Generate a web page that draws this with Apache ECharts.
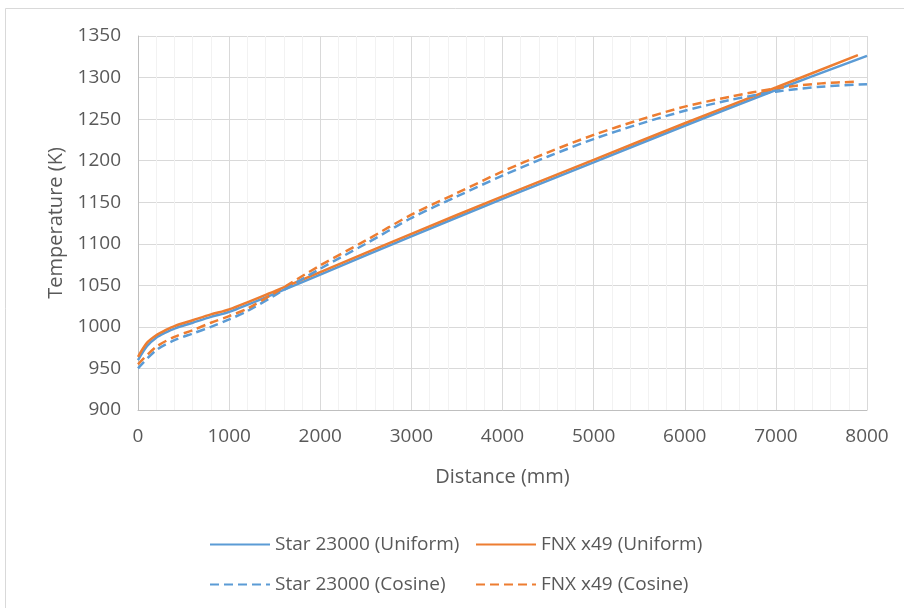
<!DOCTYPE html>
<html>
<head>
<meta charset="utf-8">
<script src="https://cdn.jsdelivr.net/npm/echarts@6/dist/echarts.min.js"></script>
<style>
html,body{margin:0;padding:0;background:#fff;}
#c{width:904px;height:608px;}
</style>
</head>
<body>
<div id="c"></div>
<script>
// Data (distance mm, temperature K)
const starUniformX = [0, 100, 200, 300, 400, 600, 800, 1000, 1500, 2000, 3000, 4000, 5000, 6000, 7000, 8000];
const starUniformY = [960, 977, 987, 993, 998, 1005, 1012, 1018, 1040, 1063, 1109, 1154, 1198, 1242, 1285, 1326];
const fnxUniformX = [0, 100, 200, 300, 400, 600, 800, 1000, 1500, 2000, 3000, 4000, 5000, 6000, 7000, 7900];
const fnxUniformY = [964, 981, 990, 996, 1001, 1008, 1015, 1021, 1043, 1066, 1112, 1157, 1201, 1245, 1288, 1327];
const starCosineX = [0, 200, 400, 600, 800, 1000, 1200, 1500, 2000, 2500, 3000, 3500, 4000, 4500, 5000, 5500, 6000, 6500, 7000, 7500, 8000];
const starCosineY = [950, 972, 984, 992, 1000, 1009, 1019, 1038, 1070, 1100, 1131, 1157, 1182, 1205, 1226, 1244, 1260, 1273, 1283, 1289, 1292];
const fnxCosineX = [0, 200, 400, 600, 800, 1000, 1200, 1500, 2000, 2500, 3000, 3500, 4000, 4500, 5000, 5500, 6000, 6500, 7000, 7500, 7900];
const fnxCosineY = [955, 976, 988, 996, 1005, 1013, 1022, 1041, 1074, 1104, 1135, 1161, 1187, 1210, 1231, 1249, 1265, 1277, 1287, 1293, 1295];
const seriesNames = ['Star 23000 (Uniform)', 'FNX x49 (Uniform)', 'Star 23000 (Cosine)', 'FNX x49 (Cosine)'];
const xTitle = 'Distance (mm)';
const yTitle = 'Temperature (K)';

const BLUE = '#5B9BD5', ORANGE = '#ED7D31';
const FONT = 'Open Sans';
const TXT = '#595959';
const zip = (xs, ys) => xs.map((x, i) => [x, ys[i]]);

function mkSeries(name, data, color, dashed) {
  return {
    name, type: 'line', data, smooth: 0.3, showSymbol: false, symbol: 'none',
    lineStyle: { color, width: 2.5, type: dashed ? [9, 5] : 'solid' },
    itemStyle: { color }, z: dashed ? 3 : 2
  };
}
function mkLegend(name, left, top) {
  return {
    data: [name], left, top, itemWidth: 60, itemHeight: 14,
    itemStyle: { opacity: 0 },
    textStyle: { fontFamily: FONT, fontSize: 19, color: TXT }, itemGap: 0
  };
}

const chart = echarts.init(document.getElementById('c'), null, { renderer: 'canvas' });
chart.setOption({
  animation: false,
  backgroundColor: '#fff',
  graphic: [{
    type: 'rect', shape: { x: 5.5, y: 8.5, width: 910, height: 620 },
    style: { fill: 'none', stroke: '#D9D9D9', lineWidth: 1 }, silent: true, z: -1
  }],
  legend: [
    mkLegend(seriesNames[0], 204, 530),
    mkLegend(seriesNames[1], 470, 530),
    mkLegend(seriesNames[2], 204, 570),
    mkLegend(seriesNames[3], 470, 570)
  ],
  grid: { left: 138, right: 37, top: 36, bottom: 198, containLabel: false },
  xAxis: {
    type: 'value', min: 0, max: 8000, interval: 1000,
    name: xTitle, nameLocation: 'middle', nameGap: 57,
    nameTextStyle: { fontFamily: FONT, fontSize: 20, color: TXT },
    axisLine: { show: true, lineStyle: { color: '#BFBFBF', width: 1 } },
    axisTick: { show: false },
    minorTick: { show: false, splitNumber: 5 },
    minorSplitLine: { show: true, lineStyle: { color: '#F2F2F2', width: 1 } },
    splitLine: { show: true, lineStyle: { color: '#D9D9D9', width: 1 } },
    axisLabel: { fontFamily: FONT, fontSize: 19, color: TXT, margin: 17, formatter: v => String(v) }
  },
  yAxis: {
    type: 'value', min: 900, max: 1350, interval: 50,
    name: yTitle, nameLocation: 'middle', nameGap: 70, nameRotate: 90,
    nameTextStyle: { fontFamily: FONT, fontSize: 20, color: TXT },
    axisLine: { show: true, lineStyle: { color: '#BFBFBF', width: 1 } },
    axisTick: { show: false },
    splitLine: { show: true, lineStyle: { color: '#D9D9D9', width: 1 } },
    axisLabel: { fontFamily: FONT, fontSize: 19, color: TXT, margin: 17, formatter: v => String(v) }
  },
  series: [
    mkSeries(seriesNames[0], zip(starUniformX, starUniformY), BLUE, false),
    mkSeries(seriesNames[1], zip(fnxUniformX, fnxUniformY), ORANGE, false),
    mkSeries(seriesNames[2], zip(starCosineX, starCosineY), BLUE, true),
    mkSeries(seriesNames[3], zip(fnxCosineX, fnxCosineY), ORANGE, true)
  ]
});
</script>
</body>
</html>
